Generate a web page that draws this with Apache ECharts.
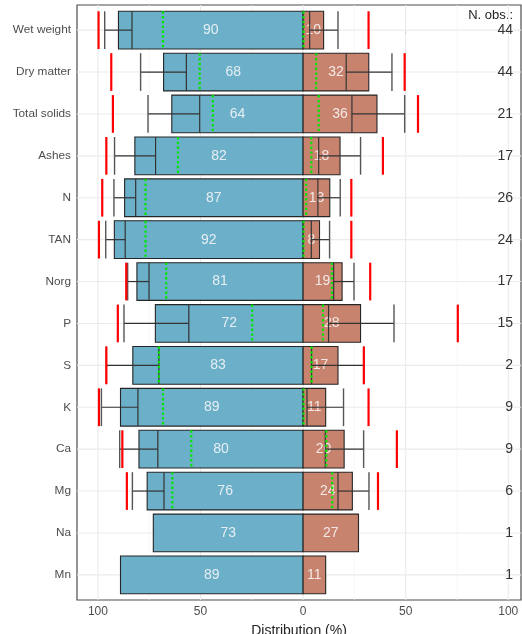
<!DOCTYPE html>
<html>
<head>
<meta charset="utf-8">
<script src="https://cdn.jsdelivr.net/npm/echarts@6/dist/echarts.min.js"></script>
<style>
  html, body { margin: 0; padding: 0; background: #fff; }
  #chart { width: 522px; height: 634px; }
</style>
</head>
<body>
<div id="chart"></div>
<script>
// Parameters, top to bottom
const categories = ['Wet weight', 'Dry matter', 'Total solids', 'Ashes', 'N', 'TAN', 'Norg',
                    'P', 'S', 'K', 'Ca', 'Mg', 'Na', 'Mn'];
// Share going to the liquid fraction (left, %) and the solid fraction (right, %)
const liquidShare = [90, 68, 64, 82, 87, 92, 81, 72, 83, 89, 80, 76, 73, 89];
const solidShare  = [10, 32, 36, 18, 13, 8, 19, 28, 17, 11, 20, 24, 27, 11];
const nObs        = [44, 44, 21, 17, 26, 24, 17, 15, 2, 9, 9, 6, 1, 1];

// Liquid side statistics (%)
const liqInner = [83.4, 56.9, 50.4, 71.9, 81.6, 86.7, 75.1, 55.7, 70.3, 80.5, 70.8, 67.8, null, null];
const liqCap   = [96.7, 79.2, 75.6, 91.9, 92.2, 96.2, 85.5, 87.3, 95.9, 98.3, 89.4, 83.2, null, null];
const liqMax   = [99.7, 93.5, 92.7, 95.9, 97.9, 99.5, 86.2, 90.3, 95.9, 99.5, 88.1, 85.9, null, null];
const liqRef   = [68.3, 50.4, 44.0, 61.0, 76.8, 76.8, 66.7, 24.8, 70.3, 68.3, 54.5, 63.7, null, null];

// Solid side statistics (%)
const solInner = [3.2, 21.0, 23.8, 7.6, 7.2, 4.0, 14.9, 12.4, 4.1, 1.9, 10.8, 17.0, null, null];
const solCap   = [17.0, 43.3, 49.5, 28.0, 18.1, 12.9, 24.8, 44.3, 29.6, 19.7, 29.5, 32.1, null, null];
const solMax   = [31.9, 49.5, 56.0, 38.9, 23.5, 23.5, 32.7, 75.4, 29.6, 31.9, 45.7, 36.5, null, null];
const solRef   = [0.2, 6.4, 7.6, 4.0, 1.5, 0.2, 14.0, 9.7, 4.1, 0.2, 11.3, 14.2, null, null];

const xTicks = [-100, -50, 0, 50, 100];
const xMinor = [-75, -25, 25, 75];

const FONT = '"Liberation Sans", Arial, sans-serif';
const BLUE = '#6cafc8';
const BROWN = '#c8836f';

const chart = echarts.init(document.getElementById('chart'), null, { renderer: 'canvas' });
const catIdx = categories.map((_, i) => i);

function gridRender(params, api) {
  const cs = params.coordSys;
  const children = [];
  xMinor.forEach(v => {
    const p = api.coord([v, 0]);
    children.push({ type: 'line', shape: { x1: p[0], y1: cs.y, x2: p[0], y2: cs.y + cs.height },
      style: { stroke: '#f2f2f2', lineWidth: 0.6 } });
  });
  xTicks.forEach(v => {
    const p = api.coord([v, 0]);
    children.push({ type: 'line', shape: { x1: p[0], y1: cs.y, x2: p[0], y2: cs.y + cs.height },
      style: { stroke: '#ebebeb', lineWidth: 1.1 } });
  });
  catIdx.forEach(i => {
    const p = api.coord([0, i]);
    children.push({ type: 'line', shape: { x1: cs.x, y1: p[1], x2: cs.x + cs.width, y2: p[1] },
      style: { stroke: '#ebebeb', lineWidth: 1.1 } });
  });
  return { type: 'group', children };
}

function rowRender(params, api) {
  const i = api.value(0);
  const band = api.size([0, 1])[1];
  const h = band * 0.9;
  const c0 = api.coord([0, i]);
  const cy = c0[1];
  const top = cy - h / 2;
  const left = api.coord([-liquidShare[i], i])[0];
  const right = api.coord([solidShare[i], i])[0];
  const children = [];
  const vline = (v, style) => {
    const x = api.coord([v, i])[0];
    return { type: 'line', shape: { x1: x, y1: top, x2: x, y2: top + h }, style };
  };
  const hline = (a, b, style) => {
    const xa = api.coord([a, i])[0], xb = api.coord([b, i])[0];
    return { type: 'line', shape: { x1: xa, y1: cy, x2: xb, y2: cy }, style };
  };
  // the two stacked bars
  children.push({ type: 'rect', shape: { x: left, y: top, width: c0[0] - left, height: h },
    style: { fill: BLUE, stroke: '#262626', lineWidth: 1.1 } });
  children.push({ type: 'rect', shape: { x: c0[0], y: top, width: right - c0[0], height: h },
    style: { fill: BROWN, stroke: '#262626', lineWidth: 1.1 } });
  // share labels
  children.push({ type: 'text', style: { text: String(liquidShare[i]),
    x: (left + c0[0]) / 2, y: cy, align: 'center', verticalAlign: 'middle',
    fill: 'rgba(250,250,250,0.85)', fontSize: 14, fontFamily: FONT } });
  children.push({ type: 'text', style: { text: String(solidShare[i]),
    x: (right + c0[0]) / 2, y: cy, align: 'center', verticalAlign: 'middle',
    fill: 'rgba(250,250,250,0.85)', fontSize: 14, fontFamily: FONT } });
  if (liqInner[i] != null) {
    const whisk = { stroke: '#333', lineWidth: 1.2 };
    const cap = { stroke: '#555', lineWidth: 1.4 };
    children.push(hline(-liqCap[i], -liqInner[i], whisk));
    children.push(vline(-liqInner[i], whisk));
    children.push(vline(-liqCap[i], cap));
    children.push(hline(solInner[i], solCap[i], whisk));
    children.push(vline(solInner[i], whisk));
    children.push(vline(solCap[i], cap));
    const red = { stroke: '#ff0000', lineWidth: 2.2 };
    children.push(vline(-liqMax[i], red));
    children.push(vline(solMax[i], red));
    const green = { stroke: '#00e600', lineWidth: 2.2, lineDash: [2.4, 2.4] };
    children.push(vline(-liqRef[i], green));
    children.push(vline(solRef[i], green));
  }
  // observation count
  children.push({ type: 'text', style: { text: String(nObs[i]),
    x: api.coord([102.3, i])[0], y: cy, align: 'right', verticalAlign: 'middle',
    fill: '#333', fontSize: 14, fontFamily: FONT } });
  return { type: 'group', children };
}

const option = {
  animation: false,
  grid: { left: 77, right: 1, top: 5, bottom: 34, show: true, containLabel: false,
          outerBoundsMode: 'none',
          borderColor: '#4d4d4d', borderWidth: 1.2, backgroundColor: 'transparent' },
  xAxis: {
    type: 'value', min: -110.2, max: 106.2,
    name: 'Distribution (%)', nameLocation: 'middle', nameGap: 24,
    nameTextStyle: { fontSize: 14, color: '#222', fontFamily: FONT },
    axisLine: { show: false },
    axisTick: { show: true, customValues: xTicks, length: 4, lineStyle: { color: '#4d4d4d' } },
    axisLabel: { customValues: xTicks, margin: 6, fontSize: 12, color: '#4d4d4d', fontFamily: FONT,
                 formatter: v => String(Math.abs(v)) },
    splitLine: { show: false }
  },
  yAxis: {
    type: 'value', min: -0.6, max: 13.6, inverse: true,
    axisLine: { show: false },
    axisTick: { show: true, customValues: catIdx, length: 4, lineStyle: { color: '#4d4d4d' } },
    axisLabel: { customValues: catIdx, margin: 6, fontSize: 11.8, color: '#4d4d4d', fontFamily: FONT,
                 formatter: v => categories[Math.round(v)] || '' },
    splitLine: { show: false }
  },
  graphic: [{
    type: 'text', right: 9, top: 9,
    style: { text: 'N. obs.:', fill: '#222', fontSize: 13, fontFamily: FONT }
  }],
  series: [
    { type: 'custom', renderItem: gridRender, data: [[0]], clip: false, silent: true, z: 1 },
    { type: 'custom', renderItem: rowRender, data: catIdx.map(i => [i]), clip: false, z: 2 }
  ]
};
chart.setOption(option);
</script>
</body>
</html>
